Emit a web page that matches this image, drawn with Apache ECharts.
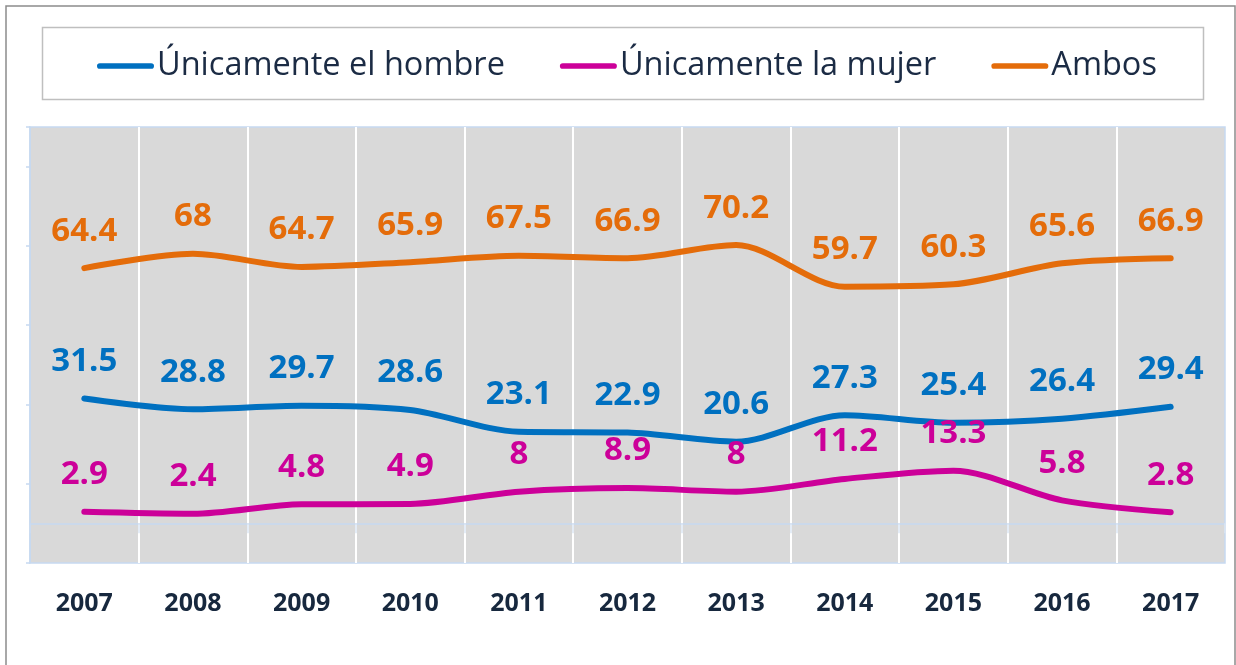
<!DOCTYPE html>
<html>
<head>
<meta charset="utf-8">
<script src="https://cdn.jsdelivr.net/npm/echarts@6/dist/echarts.min.js"></script>
<style>
  html, body { margin: 0; padding: 0; background: #fff; }
  #chart { width: 1236px; height: 665px; }
</style>
</head>
<body>
<div id="chart"></div>
<script>
// datos
const years = ['2007', '2008', '2009', '2010', '2011', '2012', '2013', '2014', '2015', '2016', '2017'];
const hombre = [31.5, 28.8, 29.7, 28.6, 23.1, 22.9, 20.6, 27.3, 25.4, 26.4, 29.4];
const mujer = [2.9, 2.4, 4.8, 4.9, 8, 8.9, 8, 11.2, 13.3, 5.8, 2.8];
const ambos = [64.4, 68, 64.7, 65.9, 67.5, 66.9, 70.2, 59.7, 60.3, 65.6, 66.9];

const FONT = '"Open Sans", "Noto Sans", sans-serif';
const PALE = '#c6d9f1';

function lineSeries(name, data, color) {
    return {
        name: name,
        type: 'line',
        data: data,
        smooth: 0.3,
        symbol: 'circle',
        symbolSize: 0,
        showSymbol: true,
        lineStyle: { width: 6, color: color, cap: 'round', join: 'round' },
        itemStyle: { color: color },
        label: {
            show: true,
            position: 'top',
            distance: 21,
            color: color,
            fontFamily: FONT,
            fontWeight: 'bold',
            fontSize: 33,
            lineHeight: 32
        }
    };
}

const chart = echarts.init(document.getElementById('chart'));
chart.setOption({
    animation: false,
    graphic: [
        {
            type: 'rect',
            shape: { x: 6, y: 6, width: 1229, height: 700 },
            style: { fill: 'none', stroke: '#8c8c8c', lineWidth: 1.5 }
        },
        {
            type: 'rect',
            shape: { x: 42.5, y: 27.5, width: 1161, height: 72 },
            style: { fill: 'none', stroke: '#bfbfbf', lineWidth: 1.5 }
        }
    ],
    legend: {
        left: 92,
        top: 43,
        itemWidth: 57,
        itemHeight: 8,
        itemGap: 55,
        icon: 'path://M5,0 H95 A5,5 0 0 1 95,10 H5 A5,5 0 0 1 5,0 Z',
        textStyle: {
            fontFamily: FONT,
            fontSize: 32.5,
            lineHeight: 36,
            color: '#1b2b44',
            padding: [0, 0, 0, -2]
        },
        data: ['Únicamente el hombre', 'Únicamente la mujer', 'Ambos']
    },
    grid: {
        left: 30,
        right: 11,
        top: 127,
        bottom: 102,
        show: true,
        backgroundColor: '#d9d9d9',
        borderColor: PALE,
        borderWidth: 1.5
    },
    xAxis: {
        type: 'category',
        data: years,
        boundaryGap: true,
        axisLine: { show: true, onZero: true, lineStyle: { color: PALE, width: 1.5 } },
        axisTick: { show: true, length: 10, lineStyle: { color: '#dbe6f4', width: 1.5 } },
        axisLabel: {
            margin: 28,
            color: '#17283e',
            fontFamily: FONT,
            fontWeight: 'bold',
            fontSize: 25
        },
        splitLine: {
            show: true,
            showMinLine: false,
            showMaxLine: false,
            lineStyle: { color: '#ffffff', width: 2 }
        }
    },
    yAxis: {
        type: 'value',
        min: -10,
        max: 100,
        interval: 20,
        z: 3,
        axisLine: { show: true, lineStyle: { color: PALE, width: 1.5 } },
        axisTick: { show: true, length: 4, lineStyle: { color: PALE, width: 1.5 } },
        axisLabel: { show: false },
        splitLine: { show: false }
    },
    series: [
        lineSeries('Únicamente el hombre', hombre, '#0070c0'),
        lineSeries('Únicamente la mujer', mujer, '#cc0099'),
        lineSeries('Ambos', ambos, '#e46c0a')
    ]
});
</script>
</body>
</html>
